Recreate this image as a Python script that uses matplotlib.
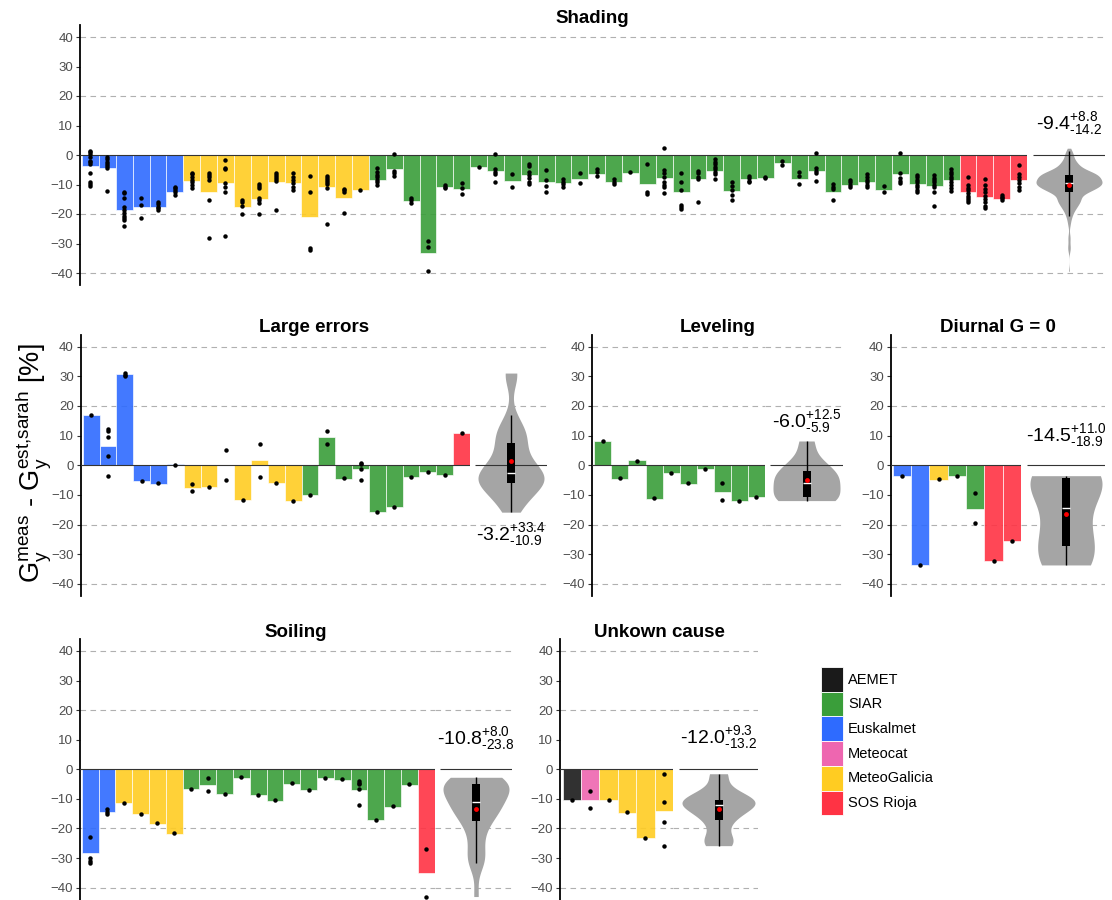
import numpy as np
import matplotlib.pyplot as plt
from matplotlib.patches import Rectangle

plt.rcParams['font.family'] = ['Liberation Sans', 'DejaVu Sans']
plt.rcParams['mathtext.fontset'] = 'custom'
plt.rcParams['mathtext.rm'] = 'Liberation Sans'
plt.rcParams['mathtext.default'] = 'regular'

# network colours
networks = ['AEMET', 'SIAR', 'Euskalmet', 'Meteocat', 'MeteoGalicia', 'SOS Rioja']
net_colors = ['#1a1a1a', '#3a9e3a', '#2e6bff', '#ee66b0', '#ffcc22', '#ff3344']
col = dict(zip(networks, net_colors))

# ---- Shading ----
shading_net = ['Euskalmet'] * 6 + ['MeteoGalicia'] * 11 + ['SIAR'] * 35 + ['SOS Rioja'] * 4
shading_bars = [-3.7, -4.4, -18.8, -17.7, -17.5, -12.5,
                -8.7, -12.6, -9.6, -17.7, -14.9, -9.1, -9.6, -21.1, -10.7, -14.6, -12.0,
                -8.4, -4.8, -15.5, -33.2, -10.9, -11.5, -4.2, -5.3, -8.7, -6.9, -9.1, -9.6,
                -8.0, -6.4, -9.2, -6.0, -9.8, -7.8, -12.4, -8.2, -5.3, -12.2, -8.2, -7.7,
                -2.6, -8.2, -5.3, -12.6, -10.1, -9.0, -11.8, -6.5, -9.7, -10.4, -8.4,
                -12.7, -14.3, -15.0, -8.4]
shading_pts = [
    [1.5, 0.9, 0.3, -0.8, -1.9, -2.5, -2.9, -6.2, -9.2, -9.8, -10.5],
    [-0.6, -1.5, -2.3, -3.0, -3.7, -4.5, -12.2],
    [-12.4, -13.0, -14.6, -17.7, -18.6, -19.7, -20.6, -21.4, -22.2, -23.9],
    [-14.6, -17.1, -21.3],
    [-15.8, -16.6, -17.5, -18.1, -18.6],
    [-10.7, -11.3, -11.8, -12.5, -13.7],
    [-6.0, -6.5, -7.3, -8.4, -9.2, -10.1, -11.1],
    [-6.2, -6.9, -7.5, -8.4, -15.2, -28.0],
    [-1.7, -4.3, -4.8, -9.6, -11.0, -12.7, -27.4],
    [-15.4, -16.0, -17.2, -19.9],
    [-9.9, -10.5, -11.3, -14.6, -15.4, -16.3, -20.0],
    [-6.2, -6.8, -7.3, -8.1, -8.7, -18.6],
    [-6.2, -7.3, -8.4, -9.6, -10.9, -12.0],
    [-7.0, -12.4, -31.5, -32.3],
    [-7.0, -7.7, -8.4, -9.2, -9.9, -11.3, -23.3],
    [-11.6, -12.0, -12.6, -19.7],
    [-11.8],
    [-4.3, -5.6, -6.8, -7.5, -8.4, -9.3, -10.1],
    [0.3, -5.3, -6.2, -7.1],
    [-14.6, -15.4, -16.3],
    [-29.3, -31.2, -39.4],
    [-10.1, -10.7, -11.3],
    [-9.6, -11.3, -13.2],
    [-3.9],
    [0.3, -4.7, -5.6, -6.4, -9.0],
    [-6.4, -10.7],
    [-3.0, -3.7, -5.6, -6.8, -7.9, -9.0, -9.8],
    [-5.1, -8.4, -10.5, -12.7],
    [-8.2, -9.0, -9.8, -10.7],
    [-6.2, -9.6],
    [-4.8, -5.6, -7.1],
    [-8.2, -9.0, -9.9],
    [-5.9],
    [-3.2, -12.4, -13.2],
    [2.3, -5.1, -6.2, -7.3, -9.3, -10.1, -10.9, -12.9],
    [-6.2, -9.3, -11.8, -16.9, -17.7, -18.4],
    [-5.3, -6.2, -7.3, -8.2, -15.8],
    [-1.4, -2.3, -3.2, -3.9, -4.7, -5.6, -6.5, -8.2],
    [-9.0, -10.5, -12.0, -13.5, -15.2],
    [-7.0, -7.9, -8.7, -9.3],
    [-7.3, -7.9],
    [-1.9, -3.4],
    [-5.9, -7.1, -9.9],
    [0.6, -4.5, -5.3, -6.2, -8.7],
    [-9.9, -10.7, -11.5, -15.2],
    [-8.4, -9.3, -10.1, -10.9],
    [-6.4, -7.5, -8.4, -9.3, -10.1, -10.7],
    [-10.5, -12.6],
    [0.6, -6.2, -7.9, -8.7, -9.6],
    [-6.8, -7.5, -8.4, -9.3, -10.1, -10.9, -11.8, -12.6],
    [-6.8, -7.7, -8.4, -9.3, -10.1, -10.9, -12.4, -17.2],
    [-4.8, -5.6, -6.4, -7.3, -8.2, -9.0, -10.1, -11.3, -12.2],
    [-7.3, -10.1, -11.3, -12.0, -13.0, -13.9, -14.6, -15.4, -16.1],
    [-8.2, -10.1, -11.6, -12.7, -13.9, -15.0, -16.1, -17.2, -18.0],
    [-13.5, -14.1, -14.6, -15.4],
    [-3.4, -6.4, -7.3, -8.4, -9.6, -10.7, -11.8],
]
shading_stat = ('-9.4', '+8.8', '-14.2')

# ---- Large errors ----
large_net = ['Euskalmet'] * 6 + ['MeteoGalicia'] * 7 + ['SIAR'] * 9 + ['SOS Rioja']
large_bars = [16.9, 6.5, 30.7, -5.4, -6.2, 0.4,
              -7.6, -7.2, 0.0, -11.7, 1.8, -6.1, -12.0,
              -10.1, 9.5, -4.5, -1.4, -15.8, -14.0, -4.1, -2.3, -3.2,
              11.0]
large_pts = [[16.8], [12.2, 11.7, 9.4, 3.2, -3.5], [31.1, 30.6, 30.2], [-5.3], [-6.1], [0.2],
             [-6.3, -8.7], [-7.2], [5.0, -5.0], [-11.6], [7.1, -3.8], [-6.0], [-12.0],
             [-10.0], [11.6, 7.1], [-4.4], [0.9, 0.3, -1.4, -4.8], [-15.8], [-13.9],
             [-3.9], [-2.1], [-3.2],
             [11.0]]
large_stat = ('-3.2', '+33.4', '-10.9')

# ---- Leveling ----
level_net = ['SIAR'] * 10
level_bars = [8.2, -4.5, 1.7, -11.2, -2.6, -6.2, -1.3, -8.9, -11.9, -10.6]
level_pts = [[8.2], [-4.3], [1.6], [-11.1], [-2.5], [-6.1], [-1.3], [-6.0, -11.6], [-11.9], [-10.6]]
level_stat = ('-6.0', '+12.5', '-5.9')

# ---- Diurnal G = 0 ----
diurnal_net = ['Euskalmet'] * 2 + ['MeteoGalicia'] + ['SIAR'] * 2 + ['SOS Rioja'] * 2
diurnal_bars = [-3.6, -33.7, -4.8, -3.6, -14.6, -32.2, -25.6]
diurnal_pts = [[-3.6], [-33.6], [-4.6], [-3.5], [-9.4, -19.4], [-32.1], [-25.6]]
diurnal_stat = ('-14.5', '+11.0', '-18.9')

# ---- Soiling ----
soil_net = ['Euskalmet'] * 2 + ['MeteoGalicia'] * 4 + ['SIAR'] * 14 + ['SOS Rioja']
soil_bars = [-28.2, -14.5, -11.5, -15.1, -18.4, -21.7,
             -6.6, -5.2, -8.5, -2.8, -8.7, -10.6, -4.8, -7.1, -3.0, -3.5, -7.0, -17.2, -12.6, -5.2,
             -35.0]
soil_pts = [[-22.8, -30.1, -30.9, -31.5], [-13.5, -14.3, -15.1], [-11.4], [-15.0], [-18.3], [-21.5],
            [-6.5], [-2.8, -7.3], [-8.3], [-2.7], [-8.6], [-10.4], [-4.7], [-7.0], [-2.8], [-3.3],
            [-3.8, -4.5, -5.0, -6.8, -12.2], [-17.0], [-12.5], [-5.1],
            [-26.9, -43.0]]
soil_stat = ('-10.8', '+8.0', '-23.8')

# ---- Unknown cause ----
unk_net = ['AEMET', 'Meteocat'] + ['MeteoGalicia'] * 4
unk_bars = [-10.5, -10.4, -10.5, -14.6, -23.2, -14.1]
unk_pts = [[-10.5], [-7.2, -13.1], [-10.4], [-14.5], [-23.1], [-1.5, -11.0, -17.8, -25.8]]
unk_stat = ('-12.0', '+9.3', '-13.2')

W, H = 1112, 900
fig = plt.figure(figsize=(W / 100, H / 100), dpi=100)

ROWS = {1: (25.2, 284.8), 2: (334.8, 595.8), 3: (639.1, 899.5)}
YLIM = (-44, 44)


def px_axes(x0, x1, y0, y1):
    return fig.add_axes([x0 / W, 1 - y1 / H, (x1 - x0) / W, (y1 - y0) / H])


def grid(ax):
    for g in (-40, -20, 20, 40):
        ax.axhline(g, color='#b0b0b0', lw=0.8, ls=(0, (5, 4)), zorder=0)


def violin(ax, vals, cx, half_w):
    v = np.asarray(vals, dtype=float)
    n = len(v)
    q1, med, q3 = np.percentile(v, [25, 50, 75])
    sd = v.std(ddof=1)
    spread = min(sd, (q3 - q1) / 1.34) if q3 > q1 else sd
    bw = 0.9 * spread * n ** -0.2
    ys = np.linspace(v.min(), v.max(), 300)
    dens = np.exp(-0.5 * ((ys[:, None] - v[None, :]) / bw) ** 2).sum(axis=1)
    w = dens / dens.max() * half_w
    ax.fill_betweenx(ys, cx - w, cx + w, color='#a5a5a5', lw=0, zorder=1)
    iqr = q3 - q1
    lo = v[v >= q1 - 1.5 * iqr].min()
    hi = v[v <= q3 + 1.5 * iqr].max()
    ax.vlines(cx, lo, hi, color='black', lw=1.0, zorder=3)
    ax.add_patch(Rectangle((cx - 4, q1), 8, q3 - q1, color='black', lw=0, zorder=3))
    ax.hlines(med, cx - 4, cx + 4, color='white', lw=1.0, zorder=4)
    ax.plot(cx, v.mean(), 'o', color='red', ms=3.5, mec='none', zorder=5)


def panel(title, row, spine_x, bar_x0, bar_x1, vio_x0, vio_x1,
          nets, bars, pts, stat, stat_y):
    y0, y1 = ROWS[row]
    n = len(bars)
    bw = (bar_x1 - bar_x0) / n
    ax = px_axes(spine_x, bar_x1, y0, y1)
    ax.set_xlim(-0.5 - (bar_x0 - spine_x) / bw, n - 0.5)
    ax.set_ylim(*YLIM)
    grid(ax)
    x = np.arange(n)
    ax.bar(x, bars, width=1.0, color=[col[c] for c in nets], alpha=0.9,
           edgecolor='white', linewidth=0.5, zorder=1)
    for i, p in enumerate(pts):
        ax.plot([i] * len(p), p, 'o', color='black', ms=3.2, mec='none', zorder=4)
    ax.axhline(0, color='#333333', lw=0.8, zorder=3)
    for s in ('top', 'right', 'bottom'):
        ax.spines[s].set_visible(False)
    ax.spines['left'].set_linewidth(1.3)
    ax.spines['left'].set_color('black')
    ax.set_xticks([])
    ax.set_yticks(np.arange(-40, 41, 10))
    ax.tick_params(axis='y', length=3, width=0.8, color='#333333',
                   labelsize=9.5, labelcolor='#4d4d4d', pad=2)

    # summary violin of all yearly values
    va = px_axes(bar_x1, vio_x1, y0, y1)
    va.set_xlim(bar_x1, vio_x1)
    va.set_ylim(*YLIM)
    va.axis('off')
    grid(va)
    va.hlines(0, vio_x0, vio_x1, color='#333333', lw=0.8, zorder=2)
    cx = (vio_x0 + vio_x1) / 2
    allv = [y for p in pts for y in p]
    violin(va, allv, cx, (vio_x1 - vio_x0) / 2 - 3)
    va.text(cx, stat_y,
            r'$\text{%s}^{\text{%s}}_{\text{%s}}$' % stat,
            ha='center', va='center', fontsize=14, color='black')

    fig.text((spine_x + vio_x1) / 2 / W, 1 - (y0 - 7) / H, title,
             ha='center', va='center', fontsize=13.5, fontweight='bold')


panel('Shading', 1, 80, 82, 1027, 1033, 1105,
      shading_net, shading_bars, shading_pts, shading_stat, 10.8)
panel('Large errors', 2, 80.7, 82.7, 470, 475, 547,
      large_net, large_bars, large_pts, large_stat, -23.2)
panel('Leveling', 2, 592.3, 594.3, 765, 770, 843,
      level_net, level_bars, level_pts, level_stat, 14.7)
panel('Diurnal G = 0', 2, 890.7, 892.7, 1021, 1027, 1105,
      diurnal_net, diurnal_bars, diurnal_pts, diurnal_stat, 9.9)
panel('Soiling', 3, 80, 81.7, 434.7, 440, 512,
      soil_net, soil_bars, soil_pts, soil_stat, 10.5)
panel('Unkown cause', 3, 560, 562.7, 673, 679, 758,
      unk_net, unk_bars, unk_pts, unk_stat, 10.8)

fig.text(33 / W, 1 - 463 / H,
         r'$G_y^{\text{meas}}$ - $G_y^{\text{est,sarah}}$ [%]',
         rotation=90, ha='center', va='center', fontsize=19.5)

# legend drawn as a key of coloured tiles
lax = px_axes(815, 970, 660, 820)
lax.set_xlim(815, 970)
lax.set_ylim(820, 660)
lax.axis('off')
for k, (name, c) in enumerate(zip(networks, net_colors)):
    top = 667 + k * 24.7
    lax.add_patch(Rectangle((821, top), 22, 24.7, facecolor=c,
                            edgecolor='white', linewidth=0.6))
    lax.text(848, top + 12.6, name, ha='left', va='center', fontsize=10.5)

fig.savefig('out.png', dpi=100)
